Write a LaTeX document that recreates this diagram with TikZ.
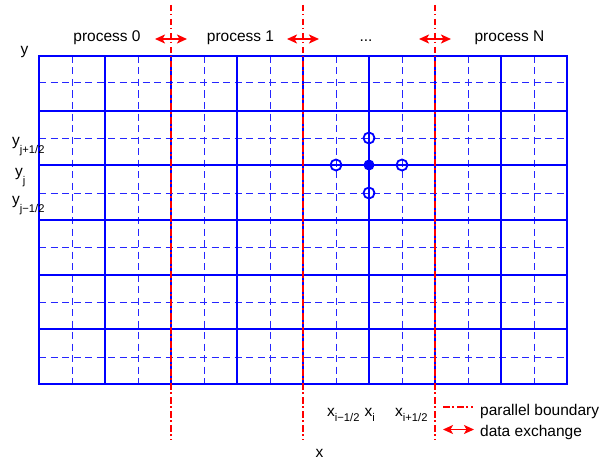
\documentclass[tikz,border=0pt]{standalone}
\usepackage{fontspec}
\setmainfont{Liberation Sans}
\usetikzlibrary{arrows.meta}
% lowered, smaller index text for grid coordinates
\newcommand\mysub[2][6pt]{\raisebox{-#1}{\fontsize{11.2}{11}\selectfont #2}}
\begin{document}
\begin{tikzpicture}[x=1pt,y=-1pt,
  solidgrid/.style={blue, line width=1.6pt},
  dashgrid/.style={blue!85!white, line width=1pt, dash pattern=on 7pt off 4.5pt},
  boundary/.style={red, line width=1.9pt, dash pattern=on 6.5pt off 2.5pt on 1.5pt off 3.5pt},
  exchange/.style={red, line width=1.6pt,
    {Stealth[length=10pt,width=9pt,inset=2.5pt]}-{Stealth[length=10pt,width=9pt,inset=2.5pt]}},
  lbl/.style={font=\fontsize{15.5}{18}\selectfont, inner sep=0pt},
  opencirc/.style={circle, draw=blue, line width=1.8pt, minimum size=11pt, inner sep=0pt},
  fullcirc/.style={circle, fill=blue, minimum size=11pt, inner sep=0pt}]
\useasboundingbox (0,0) rectangle (600,460);

% dashed half-cell lines
\foreach \i in {0,...,7}
  \draw[dashgrid] (72+66*\i,56) -- (72+66*\i,384);
\foreach \y in {83,138,193,247,302,357}
  \draw[dashgrid] (39,\y) -- (567,\y);

% solid cell lines
\foreach \i in {0,...,8}
  \draw[solidgrid] (39+66*\i,56) -- (39+66*\i,384);
\foreach \y in {56,111,165,220,275,329,384}
  \draw[solidgrid, line cap=rect] (39,\y) -- (567,\y);

% stencil points
\node[fullcirc] (c) at (369,165) {};
\node[opencirc] (cn) at (369,138) {};
\node[opencirc] (cs) at (369,193) {};
\node[opencirc] (cw) at (336,165) {};
\node[opencirc] (ce) at (402,165) {};

% data exchange arrows across the subdomain boundaries
\coordinate (a1l) at (155,39); \coordinate (a1r) at (187,39);
\coordinate (a2l) at (287,39); \coordinate (a2r) at (319,39);
\coordinate (a3l) at (419,39); \coordinate (a3r) at (451,39);
\draw[exchange] (a1l) -- (a1r);
\draw[exchange] (a2l) -- (a2r);
\draw[exchange] (a3l) -- (a3r);

% parallel boundaries
\coordinate (b1t) at (171,5); \coordinate (b1b) at (171,440);
\coordinate (b2t) at (303,5); \coordinate (b2b) at (303,440);
\coordinate (b3t) at (435,5); \coordinate (b3b) at (435,440);
\draw[boundary] (b1t) -- (b1b);
\draw[boundary] (b2t) -- (b2b);
\draw[boundary] (b3t) -- (b3b);

% process labels
\node[lbl, anchor=base] (p0) at (107,42) {process 0};
\node[lbl, anchor=base] (p1) at (240.5,42) {process 1};
\node[lbl, anchor=base] (pd) at (366,42) {...};
\node[lbl, anchor=base] (pN) at (509.5,42) {process N};

% axis and coordinate labels
\node[lbl, anchor=base west] (ylab) at (20.5,54.5) {y};
\node[lbl, anchor=base west] (yp) at (12,145.5) {y\mysub[7.5pt]{j+1/2}};
\node[lbl, anchor=base west] (yc) at (15,176) {y\mysub[8pt]{j}};
\node[lbl, anchor=base west] (ym) at (12,204.5) {y\mysub[7.5pt]{j−1/2}};
\node[lbl, anchor=base west] (xm) at (327,416.5) {x\mysub[4.5pt]{i−1/2}};
\node[lbl, anchor=base west] (xc) at (364.5,416.5) {x\mysub[4.5pt]{i}};
\node[lbl, anchor=base west] (xp) at (395,416.5) {x\mysub[4.5pt]{i+1/2}};
\node[lbl, anchor=base west] (xlab) at (315.5,457) {x};

% legend
\coordinate (l1a) at (443,407); \coordinate (l1b) at (473,407);
\coordinate (l2a) at (443,429.5); \coordinate (l2b) at (474,429.5);
\draw[boundary] (l1a) -- (l1b);
\draw[exchange] (l2a) -- (l2b);
\node[lbl, anchor=base west] (leg1) at (480,415) {parallel boundary};
\node[lbl, anchor=base west] (leg2) at (480,436) {data exchange};
\end{tikzpicture}
\end{document}
